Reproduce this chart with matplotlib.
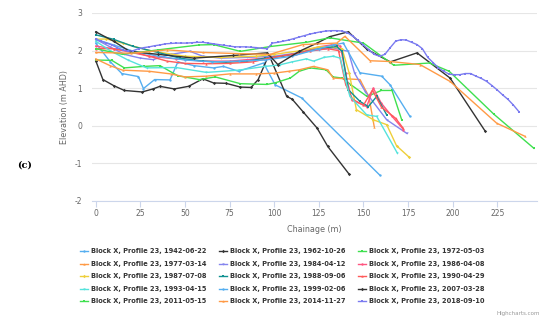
import matplotlib
matplotlib.use("Agg")
import matplotlib.pyplot as plt

plt.rcParams['font.family'] = ['DejaVu Sans']

labels = [
    "Block X, Profile 23, 1942-06-22", "Block X, Profile 23, 1962-10-26", "Block X, Profile 23, 1972-05-03",
    "Block X, Profile 23, 1977-03-14", "Block X, Profile 23, 1984-04-12", "Block X, Profile 23, 1986-04-08",
    "Block X, Profile 23, 1987-07-08", "Block X, Profile 23, 1988-09-06", "Block X, Profile 23, 1990-04-29",
    "Block X, Profile 23, 1993-04-15", "Block X, Profile 23, 1999-02-06", "Block X, Profile 23, 2007-03-28",
    "Block X, Profile 23, 2011-05-15", "Block X, Profile 23, 2014-11-27", "Block X, Profile 23, 2018-09-10",
]
colors = ["#55aef0", "#333333", "#3fe04f", "#ff9a45", "#8585ee", "#ff5580",
          "#eecf3a", "#109191", "#ff5a5a", "#55e3dc", "#55aef0", "#333333",
          "#3fe04f", "#ff9a45", "#7b7bf0"]
markers = ["o", "D", "s", "^", "v", "o", "D", "s", "^", "v", "o", "D", "s", "^", "s"]

x1942 = [0, 8, 14.6, 23.9, 26.7, 33, 41.6, 46, 55, 66, 71.5, 80, 94, 100.5, 115.4, 159.3]
y1942 = [2.2, 1.71, 1.39, 1.31, 0.99, 1.23, 1.22, 1.7, 1.6, 1.54, 1.58, 1.45, 1.67, 1.09, 0.74, -1.32]

x1962 = [0, 4, 10, 16, 26, 32, 36, 44, 52, 60, 66, 73, 81, 87, 91, 97, 107, 110, 116, 124, 130, 142]
y1962 = [1.73, 1.23, 1.07, 0.94, 0.90, 0.98, 1.05, 0.98, 1.05, 1.25, 1.14, 1.13, 1.03, 1.02, 1.23, 1.89,
         0.78, 0.71, 0.38, -0.06, -0.55, -1.29]

x1972 = [0, 9, 16, 27, 36, 46, 58, 67, 81, 96, 101, 109, 114, 120, 129, 133, 138, 143, 152, 160, 166, 171.4]
y1972 = [1.75, 1.74, 1.54, 1.58, 1.6, 1.33, 1.23, 1.3, 1.12, 1.1, 1.15, 1.27, 1.45, 1.54, 1.49, 1.3, 1.27,
         1.09, 0.78, 0.94, 0.94, 0.16]

x1977 = [0, 8, 15, 30, 42, 50, 62, 75, 90, 100, 108, 114, 122, 130, 133, 140, 148, 153, 156]
y1977 = [1.78, 1.6, 1.48, 1.45, 1.38, 1.3, 1.32, 1.38, 1.38, 1.4, 1.45, 1.49, 1.58, 1.49, 1.27, 1.25, 1.23,
         0.78, -0.02]

x1984 = [0, 8, 16, 25, 32, 42, 52.8, 60, 70, 85, 100, 115, 125, 133, 141.5, 145, 151, 163, 174.2]
y1984 = [2.3, 2.1, 1.9, 1.8, 1.76, 1.9, 1.98, 1.85, 1.8, 1.82, 1.85, 1.95, 2.02, 2.07, 1.98, 1.4, 0.91,
         0.16, -0.2]

x1986 = [0, 10, 20, 30, 45, 60, 75, 90, 100, 112, 125, 132, 137, 140, 143.4, 151.8, 155.5, 160, 166, 172.4]
y1986 = [2.12, 2.05, 1.95, 1.85, 1.78, 1.72, 1.72, 1.78, 1.82, 1.92, 2.1, 2.15, 2.12, 1.4, 0.69, 0.51, 1.0,
         0.6, 0.25, -0.1]

x1987 = [0, 6, 15, 30, 50, 70, 90, 100, 115, 125, 133, 138, 142, 146, 155.5, 163, 168.5, 175.7]
y1987 = [2.3, 2.31, 2.2, 2.0, 1.85, 1.82, 1.85, 1.9, 2.0, 2.1, 2.1, 2.05, 1.4, 0.43, 0.16, 0.03, -0.53, -0.84]

x1988 = [0, 10, 21, 35, 47, 60, 73, 85, 95, 105, 115, 125, 135, 138, 141.5, 148, 152.7, 157.4, 163]
y1988 = [2.42, 2.3, 2.11, 1.95, 1.8, 1.72, 1.69, 1.72, 1.8, 1.85, 1.95, 2.05, 2.11, 1.98, 0.96, 0.65, 0.51,
         0.78, 0.29]

x1990 = [0, 10, 20, 30, 40, 50, 62, 75, 88, 97, 110, 120, 130, 136, 140, 144, 150, 155, 160, 168, 172]
y1990 = [2.05, 2.05, 1.98, 1.85, 1.72, 1.66, 1.65, 1.66, 1.7, 1.8, 1.9, 2.0, 2.05, 2.0, 1.1, 0.7, 0.55, 0.95,
         0.5, 0.2, -0.05]

x1993 = [0, 8, 18, 28.5, 45, 62, 80, 95, 103, 110, 118, 122, 128, 133, 137, 140, 142.4, 151.8, 157.4, 169]
y1993 = [2.25, 2.0, 1.75, 1.54, 1.55, 1.42, 1.48, 1.58, 1.62, 1.7, 1.78, 1.72, 1.82, 1.85, 1.8, 1.2, 0.78,
         0.29, 0.25, -0.73]

x1999 = [0, 10, 20, 35, 50, 65, 80, 95, 110, 125, 133, 138.7, 148, 160.2, 164.9, 176]
y1999 = [2.3, 2.15, 2.0, 1.85, 1.75, 1.7, 1.72, 1.75, 1.85, 2.05, 2.15, 2.2, 1.41, 1.32, 1.09, 0.25]

x2007 = [0, 10, 19, 35, 55, 77, 96, 102, 114, 124, 131, 141.5, 152, 165, 180, 198.5, 218]
y2007 = [2.5, 2.25, 1.98, 1.9, 1.8, 1.87, 1.94, 1.63, 1.98, 2.2, 2.37, 2.5, 2.03, 1.7, 1.94, 1.27, -0.13]

x2011 = [0, 15, 35, 58, 66, 81, 98, 118, 131, 150, 167, 187, 198, 223, 245.5]
y2011 = [2.05, 1.9, 2.02, 2.15, 2.16, 1.98, 2.11, 2.22, 2.34, 2.2, 1.61, 1.67, 1.45, 0.31, -0.6]

x2014 = [0, 20, 40, 60, 80, 97.6, 116, 135, 139.6, 153.7, 164.9, 181.6, 198.5, 224.6, 240.5]
y2014 = [1.95, 1.93, 2.02, 1.95, 1.92, 1.9, 2.16, 2.2, 2.38, 1.73, 1.71, 1.63, 1.18, 0.07, -0.28]

x2018 = [0, 3, 6, 9, 12, 15, 18, 21, 24, 27, 30, 33, 36, 39, 42, 45, 48, 51, 54, 57, 60, 63, 66, 69, 72,
         75, 78, 81, 84, 87, 90, 93, 96, 99, 102, 105, 108, 111, 114, 117, 120, 123, 126, 129, 132, 135,
         138, 141, 144, 147, 150, 153, 156, 159, 162, 165, 168, 171, 174, 177, 180, 183, 186, 189, 192,
         195, 198, 201, 204, 207, 210, 213, 216, 219, 222, 225, 228, 231, 234, 237]
y2018 = [2.3, 2.25, 2.2, 2.15, 2.08, 2.02, 1.98, 2.0, 2.05, 2.08, 2.1, 2.13, 2.15, 2.18, 2.19, 2.2, 2.2,
         2.2, 2.21, 2.22, 2.22, 2.2, 2.18, 2.16, 2.14, 2.12, 2.1, 2.1, 2.1, 2.09, 2.08, 2.06, 2.05, 2.2,
         2.22, 2.25, 2.28, 2.32, 2.36, 2.4, 2.44, 2.47, 2.5, 2.52, 2.53, 2.53, 2.52, 2.48, 2.38, 2.27,
         2.15, 2.02, 1.9, 1.85, 1.9, 2.08, 2.25, 2.29, 2.28, 2.22, 2.16, 2.05, 1.82, 1.68, 1.54, 1.45,
         1.37, 1.36, 1.36, 1.39, 1.39, 1.32, 1.26, 1.18, 1.07, 0.95, 0.82, 0.7, 0.55, 0.38]

xs = [x1942, x1962, x1972, x1977, x1984, x1986, x1987, x1988, x1990, x1993, x1999, x2007, x2011, x2014, x2018]
ys = [y1942, y1962, y1972, y1977, y1984, y1986, y1987, y1988, y1990, y1993, y1999, y2007, y2011, y2014, y2018]

xticks = [0, 25, 50, 75, 100, 125, 150, 175, 200, 225]
yticks = [-2, -1, 0, 1, 2, 3]

fig = plt.figure(figsize=(5.5, 3.24), dpi=100)
ax = fig.add_axes([92 / 550, 1 - 201 / 324, 445 / 550, 188 / 324])

handles = []
for x, y, c, m, lab in zip(xs, ys, colors, markers, labels):
    h, = ax.plot(x, y, color=c, lw=1.0, marker=m, markersize=1.7, markeredgewidth=0, label=lab)
    handles.append(h)

ax.set_xlim(-2.1, 247.2)
ax.set_ylim(-2, 3)
ax.set_xticks(xticks)
ax.set_yticks(yticks)
ax.set_yticklabels([str(v) for v in yticks])
ax.grid(axis='y', color='#e6e6e6', lw=0.8)
ax.set_axisbelow(True)
for s in ['top', 'right', 'left']:
    ax.spines[s].set_visible(False)
ax.spines['bottom'].set_color('#ccd6eb')
ax.spines['bottom'].set_linewidth(0.8)
ax.tick_params(axis='x', colors='#ccd6eb', length=4, width=0.8, labelcolor='#666666', labelsize=5.5, pad=2)
ax.tick_params(axis='y', length=0, labelcolor='#666666', labelsize=5.5, pad=7)
ax.set_xlabel("Chainage (m)", fontsize=5.8, color='#666666', labelpad=5)
ax.set_ylabel("Elevation (m AHD)", fontsize=5.8, color='#666666', labelpad=4)

fig.text(17 / 550, 1 - 165 / 324, "(c)", fontsize=7, family='serif', fontweight='bold', va='center', ha='left')

# legend: Highcharts fills rows, matplotlib fills columns -> reorder
order = [0, 3, 6, 9, 12, 1, 4, 7, 10, 13, 2, 5, 8, 11, 14]
leg = fig.legend([handles[i] for i in order], [labels[i] for i in order], ncol=3,
                 loc='upper left', bbox_to_anchor=(80 / 550, 1 - 248.5 / 324), frameon=False,
                 prop={'size': 4.75, 'weight': 'bold'}, handlelength=1.25, handletextpad=0.4,
                 columnspacing=1.9, labelspacing=0.98, borderpad=0, borderaxespad=0,
                 labelcolor='#333333')

fig.text(540 / 550, 1 - 314 / 324, "Highcharts.com", fontsize=4, color='#999999', ha='right', va='center')

fig.savefig("out.png", dpi=100, facecolor='white')
